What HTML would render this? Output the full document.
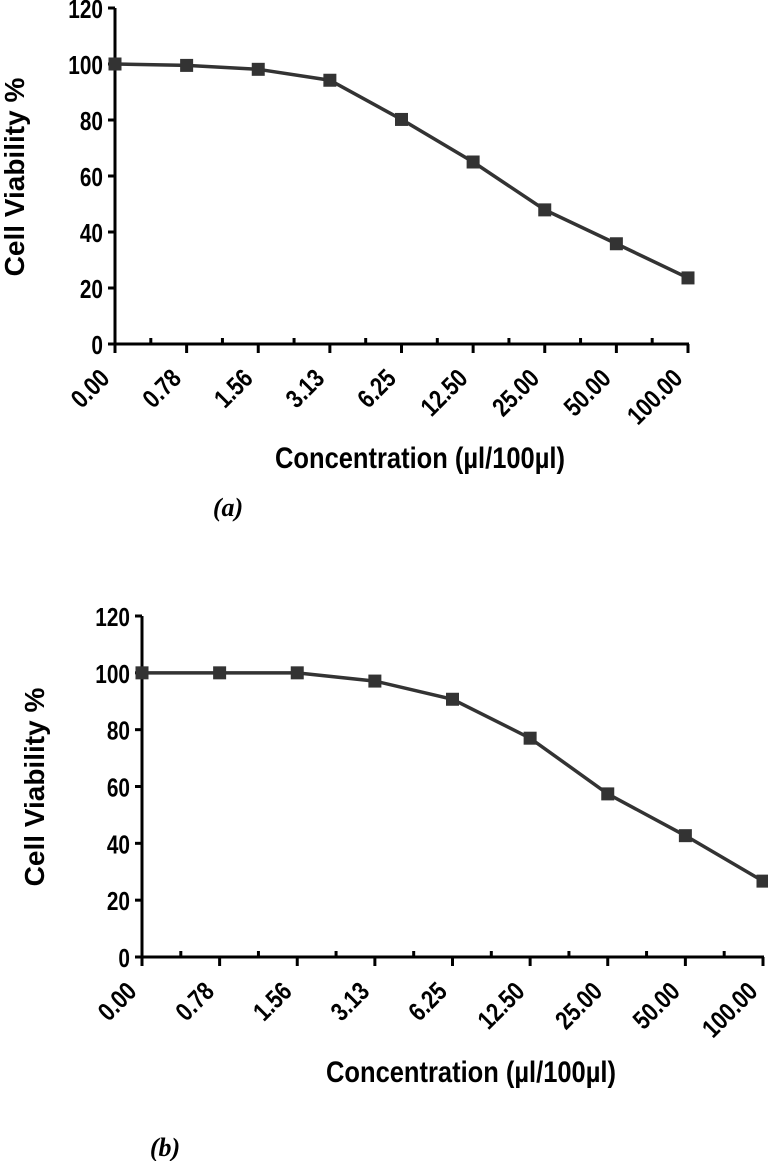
<!DOCTYPE html>
<html><head><meta charset="utf-8"><style>
html,body{margin:0;padding:0;background:#fff;}
svg{display:block;}
text{font-family:"Liberation Sans",Arial,sans-serif;font-weight:bold;fill:#000;}
</style></head><body>
<svg id="svg" width="768" height="1161" viewBox="0 0 768 1161"></svg>
<script>
const categories = ["0.00","0.78","1.56","3.13","6.25","12.50","25.00","50.00","100.00"];
const seriesA = [100, 99.5, 98.1, 94.2, 80.2, 65, 47.9, 35.8, 23.6];
const seriesB = [100, 100, 100, 97.1, 90.7, 77, 57.4, 42.7, 26.7];
const yTicks = [0, 20, 40, 60, 80, 100, 120];

const NS = "http://www.w3.org/2000/svg";
const svg = document.getElementById("svg");
function mk(tag, attrs, parent) {
  const e = document.createElementNS(NS, tag);
  for (const k in attrs) e.setAttribute(k, attrs[k]);
  (parent || svg).appendChild(e);
  return e;
}

function drawChart(cfg, values, id) {
  const g = mk("g", {});
  
  
  const n = categories.length;
  const xs = i => cfg.x0 + (cfg.x1 - cfg.x0) * i / (n - 1);
  const ys = v => cfg.y0 - (cfg.y0 - cfg.yTop) * v / 120;

  yTicks.forEach(t => {
    const y = ys(t);
    const tk = mk("line", {x1: cfg.x0 - 7, x2: cfg.x0, y1: y, y2: y, stroke: "#000", "stroke-width": 3}, g);
    
    
    const lb = mk("text", {"text-anchor": "end", "font-size": 26, transform: `translate(${cfg.x0 - 12},${y + 10}) scale(0.8,1)`}, g);
    lb.textContent = t;
    
    
  });
  const ya = mk("line", {x1: cfg.x0, x2: cfg.x0, y1: cfg.yTop, y2: cfg.y0 + 1, stroke: "#000", "stroke-width": 3}, g);
  
  
  const xa = mk("line", {x1: cfg.x0 - 1, x2: cfg.x1 + 1, y1: cfg.y0, y2: cfg.y0, stroke: "#000", "stroke-width": 3}, g);
  
  
  categories.forEach((c, i) => {
    const x = xs(i);
    const tk = mk("line", {x1: x, x2: x, y1: cfg.y0, y2: cfg.y0 + 9, stroke: "#000", "stroke-width": 3}, g);
    
    
    if (i < n - 1) {
      const mx = (xs(i) + xs(i + 1)) / 2;
      const mt = mk("line", {x1: mx, x2: mx, y1: cfg.y0 - 6, y2: cfg.y0, stroke: "#000", "stroke-width": 3}, g);
      
      
    }
    const lb = mk("text", {"text-anchor": "end", "font-size": 26, transform: `translate(${x - 4},${cfg.y0 + 36}) rotate(-45) scale(0.82,1)`}, g);
    lb.textContent = c;
    
    
  });
  const pts = values.map((v, i) => `${xs(i)},${ys(v)}`).join(" ");
  const pl = mk("polyline", {points: pts, fill: "none", stroke: "#333", "stroke-width": 3.5}, g);
  
  
  values.forEach((v, i) => {
    const r = mk("rect", {x: xs(i) - 6.5, y: ys(v) - 6.5, width: 13, height: 13, fill: "#333"}, g);
    
    
  });
  const yt = mk("text", {"text-anchor": "middle", "font-size": 28, transform: `translate(${cfg.ytX},${cfg.ytY}) rotate(-90)`}, g);
  yt.textContent = "Cell Viability %";
  
  
  const xt = mk("text", {"text-anchor": "middle", "font-size": 30, transform: `translate(${cfg.xtX},${cfg.xtY}) scale(0.85,1)`}, g);
  xt.textContent = "Concentration (µl/100µl)";
  
  
  const pt = mk("text", {"text-anchor": "middle", "font-size": 26, "font-style": "italic", style: "font-family:'Liberation Serif',serif", x: cfg.pX, y: cfg.pY}, g);
  pt.textContent = cfg.panel;
  
  
}

drawChart({x0: 115, x1: 688, y0: 344, yTop: 8, ytX: 24, ytY: 177, xtX: 420, xtY: 468, pX: 228, pY: 516, panel: "(a)"}, seriesA, "a");
drawChart({x0: 142, x1: 763, y0: 957, yTop: 616, ytX: 44, ytY: 787, xtX: 471, xtY: 1082, pX: 165, pY: 1156, panel: "(b)"}, seriesB, "b");
</script>
</body></html>
